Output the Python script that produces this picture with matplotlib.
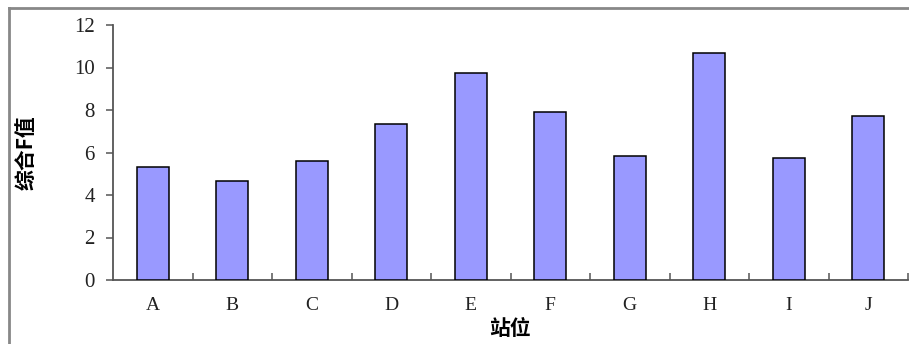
import matplotlib.pyplot as plt
from matplotlib.lines import Line2D
import numpy as np

# 各站位综合F值
stations = ['A', 'B', 'C', 'D', 'E', 'F', 'G', 'H', 'I', 'J']
f_values = [5.30, 4.67, 5.60, 7.34, 9.74, 7.90, 5.84, 10.70, 5.74, 7.70]
y_ticks = [0, 2, 4, 6, 8, 10, 12]

serif = ['Liberation Serif', 'DejaVu Serif']
cjk = ['Noto Sans CJK SC', 'DejaVu Sans']

fig = plt.figure(figsize=(9.09, 3.44), dpi=100)
ax = fig.add_axes([113/909, 1-280/344, (908-113)/909, (280-25)/344])

x = np.arange(len(stations))
ax.bar(x, f_values, width=0.40, color='#9999FF', edgecolor='black', linewidth=1.1, zorder=3)

ax.set_xlim(-0.5, len(stations)-0.5)
ax.set_ylim(0, 12)
ax.set_yticks(y_ticks)
ax.set_yticklabels([str(v) for v in y_ticks], family=serif, fontsize=15, color='#222222')
ax.set_xticks(x)
ax.set_xticklabels(stations, family=serif, fontsize=14, color='#222222')
ax.set_xticks(np.arange(len(stations)) + 0.5, minor=True)

ax.tick_params(axis='x', which='major', length=0, pad=12)
ax.tick_params(axis='x', which='minor', direction='in', length=5, width=1.1, color='#555555')
ax.tick_params(axis='y', direction='out', length=5, width=1.1, color='#555555', pad=8)

for s in ['top', 'right']:
    ax.spines[s].set_visible(False)
for s in ['left', 'bottom']:
    ax.spines[s].set_color('#555555')
    ax.spines[s].set_linewidth(1.3)

ax.set_xlabel('站位', family=cjk, fontsize=15, fontweight='bold', labelpad=3)
ax.set_ylabel('综合F值', family=cjk, fontsize=15, fontweight='bold')
ax.yaxis.set_label_coords(-0.096, 0.5)

# 图表外框(左、上)
fig.add_artist(Line2D([9/909, 9/909], [0, 1-8/344], transform=fig.transFigure, color='#888888', lw=2))
fig.add_artist(Line2D([9/909, 1], [1-8/344, 1-8/344], transform=fig.transFigure, color='#888888', lw=2))

fig.savefig('out.png', dpi=100)
